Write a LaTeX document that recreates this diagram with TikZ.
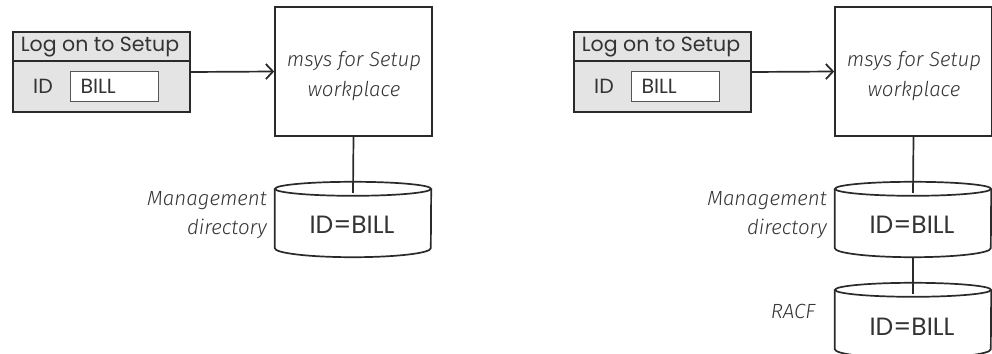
\documentclass[tikz,border=0pt]{standalone}
\usepackage{fontspec}
\usetikzlibrary{arrows.meta,calc}
\newfontfamily\geo{Poppins}
\newfontfamily\hand{Fira Sans Light Italic}
\definecolor{ink}{HTML}{2A2A2A}
\definecolor{txt}{HTML}{333333}
\definecolor{panel}{HTML}{E4E4E4}
\tikzset{
  outline/.style={draw=ink, line width=1.7pt},
  logbox/.style={outline, fill=panel, minimum width=177pt, minimum height=80pt, inner sep=0pt},
  geotext/.style={font=\geo\fontsize{20.5}{24}\selectfont, text=txt, inner sep=0pt},
  field/.style={geotext, draw=ink!80, line width=1pt, fill=white, minimum height=30pt, text width=68pt, inner xsep=10pt, inner ysep=0pt, align=left, anchor=west},
  bigtext/.style={font=\geo\fontsize{25}{28}\selectfont, text=txt, inner sep=0pt},
  handtext/.style={font=\hand\fontsize{20.5}{29.5}\selectfont, text=txt, inner sep=0pt},
  wbox/.style={outline, fill=white, minimum width=157pt, minimum height=129pt, inner sep=0pt},
  cylbox/.style={minimum width=156pt, minimum height=75pt, inner sep=0pt},
  link/.style={draw=ink, line width=1.7pt},
  arr/.style={link, -{Straight Barb[length=7pt, width=15pt, line width=1.8pt]}},
}
\newcommand{\drawcyl}[1]{%
  \path[outline, fill=white] ($(#1.north west)+(0,7)$) -- ($(#1.south west)+(0,-9)$)
     arc[start angle=180, end angle=360, x radius=78pt, y radius=9pt]
     -- ($(#1.north east)+(0,7)$);
  \path[outline] ($(#1.north)+(0,7)$) ellipse[x radius=78pt, y radius=7pt];
}
\begin{document}
\begin{tikzpicture}[x=1pt, y=-1pt]
\useasboundingbox (0,0) rectangle (992,353);
% ---------------- left panel ----------------
\node[logbox] (log1) at (101.5,72) {};
\draw[outline] (log1.west |- 0,61) -- (log1.east |- 0,61);
\node[geotext] (t1) at (100,47) {Log on to Setup};
\node[geotext] (id1) at (43,86) {ID};
\node[field] (f1) at (70,86) {BILL};
\node[wbox] (m1) at (353.5,71.5) {};
\node[handtext, align=center] (mt1) at (354,76) {msys for Setup\\workplace};
\draw[arr] (log1.east) -- (m1.west);
\node[cylbox] (c1) at (353,219.5) {};
\drawcyl{c1}
\node[bigtext] (ct1) at (352,225) {ID=BILL};
\coordinate (c1top) at ($(c1.north)+(0,11)$);
\draw[link] (m1.south) -- (c1top);
\node[handtext, align=right, anchor=east] (lab1) at (267,215) {Management\\directory};
% ---------------- right panel ----------------
\node[logbox] (log2) at (662.5,72) {};
\draw[outline] (log2.west |- 0,61) -- (log2.east |- 0,61);
\node[geotext] (t2) at (661,47) {Log on to Setup};
\node[geotext] (id2) at (604,86) {ID};
\node[field] (f2) at (631,86) {BILL};
\node[wbox] (m2) at (913.5,71.5) {};
\node[handtext, align=center] (mt2) at (914,76) {msys for Setup\\workplace};
\draw[arr] (log2.east) -- (m2.west);
\node[cylbox] (c2) at (913,219.5) {};
\drawcyl{c2}
\node[bigtext] (ct2) at (912,225) {ID=BILL};
\coordinate (c2top) at ($(c2.north)+(0,11)$);
\draw[link] (m2.south) -- (c2top);
\node[handtext, align=right, anchor=east] (lab2) at (827,215) {Management\\directory};
\node[cylbox] (c3) at (913,320.5) {};
\drawcyl{c3}
\node[bigtext] (ct3) at (912,327) {ID=BILL};
\coordinate (c3top) at ($(c3.north)+(0,11)$);
\draw[link] (c2.south) -- (c3top);
\node[handtext] (lab3) at (793,311) {RACF};
\end{tikzpicture}
\end{document}
